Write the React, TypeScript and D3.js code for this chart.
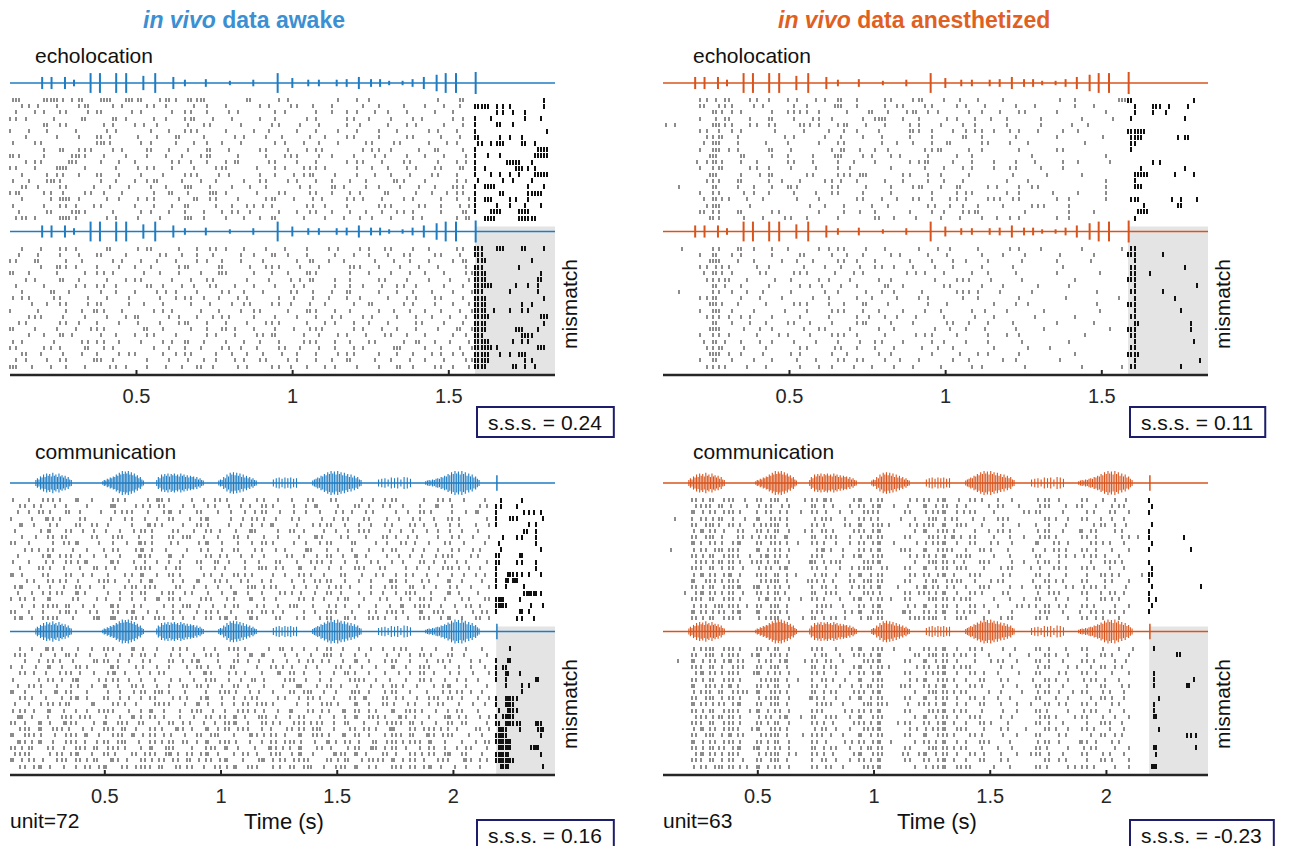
import React, { useEffect, useRef } from "react";
import * as d3 from "d3";

const W = 1293;
const H = 846;
const FONT = "'Liberation Sans', Arial, Helvetica, sans-serif";

const BLUE = "#1f7cc2";
const BLUE_TITLE = "#3b8fd2";
const ORANGE = "#d9541c";
const ORANGE_TITLE = "#e0601f";
const GREY_SPIKE = "#8c8c8c";

// spike rows are hex strings: each char = 4 slots of 10 ms (msb first), from SLOT0.
// text after "|" starts at the tail char index (post-onset window)
const SLOT0 = 0.09;
const SLOT = 0.01;

const echoDomain = [0.095, 1.84];
const commDomain = [0.092, 2.437];
const echoOnset = 1.584;
const commOnset = 2.184;
const echoTail = 37;
const commTail = 52;

const echoTicks = [0.5, 1, 1.5];
const commTicks = [0.5, 1, 1.5, 2];

// echolocation sequence: call time (s), relative amplitude
const echoCalls: [number, number][] = [
  [0.198, 0.55], [0.228, 0.55], [0.271, 0.55], [0.3, 0.3], [0.353, 0.9], [0.383, 0.9],
  [0.435, 0.9], [0.467, 0.9], [0.522, 0.65], [0.56, 0.9], [0.618, 0.55], [0.655, 0.3],
  [0.722, 0.35], [0.799, 0.2], [0.874, 0.3], [0.952, 0.9], [0.999, 0.45], [1.05, 0.3],
  [1.084, 0.3], [1.141, 0.3], [1.173, 0.35], [1.212, 0.55], [1.251, 0.35], [1.28, 0.35],
  [1.309, 0.2], [1.352, 0.2], [1.384, 0.35], [1.42, 0.55], [1.461, 0.75], [1.49, 0.9],
  [1.523, 0.9], [1.586, 1.0],
];

// communication sequence: syllable start/end (s) and envelope samples
const commSyllables = [
  { t0: 0.2, t1: 0.359, env: [0.25, 0.4, 0.3, 0.55, 0.45, 0.7, 0.5, 0.8, 0.6, 0.75, 0.55, 0.85, 0.6, 0.7, 0.5, 0.8, 0.55, 0.65, 0.45, 0.6, 0.35, 0.5, 0.3, 0.25] },
  { t0: 0.488, t1: 0.669, env: [0.15, 0.25, 0.2, 0.35, 0.3, 0.45, 0.4, 0.55, 0.5, 0.7, 0.6, 0.85, 0.7, 1.0, 0.75, 0.95, 0.8, 1.0, 0.7, 0.9, 0.65, 0.8, 0.55, 0.65, 0.4, 0.5, 0.3, 0.2] },
  { t0: 0.72, t1: 0.927, env: [0.25, 0.5, 0.4, 0.7, 0.55, 0.75, 0.6, 0.8, 0.55, 0.75, 0.65, 0.8, 0.6, 0.7, 0.55, 0.8, 0.6, 0.7, 0.5, 0.65, 0.45, 0.6, 0.5, 0.55, 0.35, 0.5, 0.3, 0.4, 0.25, 0.2] },
  { t0: 0.987, t1: 1.155, env: [0.2, 0.3, 0.25, 0.5, 0.4, 0.7, 0.55, 0.85, 0.7, 0.9, 0.65, 0.85, 0.6, 0.8, 0.5, 0.7, 0.45, 0.6, 0.4, 0.5, 0.3, 0.4, 0.25, 0.2] },
  { t0: 1.219, t1: 1.331, env: [0.3, 0.4, 0.45, 0.35, 0.45, 0.4, 0.45, 0.35, 0.4] },
  { t0: 1.391, t1: 1.606, env: [0.2, 0.3, 0.35, 0.45, 0.4, 0.6, 0.55, 0.75, 0.65, 0.9, 0.75, 1.0, 0.8, 0.95, 0.7, 1.0, 0.75, 0.9, 0.65, 0.85, 0.6, 0.75, 0.5, 0.7, 0.45, 0.6, 0.4, 0.5, 0.3, 0.25] },
  { t0: 1.671, t1: 1.822, env: [0.3, 0.35, 0.4, 0.3, 0.45, 0.4, 0.45, 0.3, 0.5, 0.45, 0.35] },
  { t0: 1.877, t1: 2.114, env: [0.15, 0.2, 0.25, 0.2, 0.3, 0.25, 0.35, 0.4, 0.35, 0.5, 0.45, 0.6, 0.55, 0.75, 0.65, 0.9, 0.75, 1.0, 0.8, 0.95, 0.7, 1.0, 0.75, 0.9, 0.6, 0.8, 0.55, 0.7, 0.45, 0.55, 0.35, 0.25] },
];
const commMarker: [number, number] = [2.187, 0.65];

const echoAwakeStd = [
  "701f4b0787 60b46e000c 0240004110 000040c | 0000010",
  "0a4102c048 0a20110400 9028410042 0204108 | 7ca8010",
  "2090a04c01 2008a10240 0480210904 4100820 | 00a4400",
  "a402018064 0220b04100 8401200a10 2048024 | 4200420",
  "0018a00240 9100428020 0a04100880 4120104 | 40c4000",
  "8208040120 0410a80402 1008204102 0802410 | 4000008",
  "0401020c80 4106020090 2100840a02 0140208 | 6048800",
  "40a0000e80 2404110820 0482104028 1402090 | 32e0c80",
  "0010c2a048 0c10418200 a04128004a 2010c04 | 4000078",
  "d0100e8204 0821058040 20a8110204 8104102 | 44400f8",
  "04a01c0410 800a2104c0 1408200941 0280412 | 401f100",
  "a081e08020 4a08102c01 0482a40108 4120a0c | 4803a80",
  "0809420c10 2040a81200 8412c08104 2081410 | 42490f8",
  "420e800420 8b01042010 a048210420 1a04012 | 2024100",
  "0c40a01082 0420e08104 2004819022 0410834 | 4f00210",
  "b01440a208 021840e401 0280a10480 c021094 | 40603e0",
  "0804f20110 4a0218a040 2c10480a41 0240211 | 4e0a200",
  "4010a41400 8208c0210a 4801440802 a014209 | 4088420",
  "100c0e8040 2410820944 0208a10421 0a40206 | 43c1e00",
  "2c80f40120 4080e20410 8c02041088 2048013 | 0f01f80",
];

const echoAwakeDev = [
  "0820a40180 4c0208a410 2081024090 a042014 | 70e0c10",
  "1040820c04 00a1084022 0c41008210 4280a08 | 7000000",
  "a0c0210048 2104090820 4008c21004 1082026 | 3800100",
  "0021a40810 8402c01804 2a04100682 0410402 | 7001000",
  "c201008a40 1082041c02 0841a00410 2084102 | f800020",
  "0480c20104 a008214008 1024c08402 8102041 | 7800060",
  "2010048a20 0c4110a082 0412008441 0a20104 | 7e02240",
  "0806100420 8124080a10 4028410c02 0841020 | f008040",
  "4a02804102 0084a21048 0210420880 4120a04 | 7800010",
  "0108a04c02 1040208114 0a20840218 0240821 | 7800900",
  "8040211a08 0248041022 8041a08402 1084208 | f908a00",
  "02a0408104 c012084a02 0408212048 0821042 | 7c00038",
  "1400a20810 4082c10408 2a01048210 4028104 | 7800010",
  "c081042a00 1840210c82 0410a80241 0820418 | f803840",
  "0210c80420 8a04012081 4c02104820 a104022 | 7000f00",
  "4802014a10 2048c20410 8202a08414 0230841 | 7c04a00",
  "a01480c240 0210840a21 0284108240 1c04208 | fe80070",
  "0c20410812 8044a02108 4108204a02 0841224 | 7c49c00",
  "2408a01c40 0810422090 a048210c04 2084102 | fc00500",
  "e1042080a4 08210c4048 0a21048102 0c40a21 | 7806480",
];

const echoAnesStd = [
  "000a4c0a20 9048c20140 b021040400 0108003 | e000020",
  "000c2a0480 2201c20114 0a02410041 0008200 | 1072080",
  "0000d24010 aa20103082 c480220828 0200020 | 1044000",
  "00084c0830 20a2008f04 2012084200 4002008 | 2000100",
  "4800ea0a28 0d20b04101 2040880200 4010800 | 0000000",
  "000a224008 0404220401 a2044a2120 8084000 | 7e00000",
  "0002b08001 2008408201 0200c20040 0200040 | 3c00580",
  "0004e08040 8020a00210 8218028104 0001000 | 3000000",
  "0008e48030 4002610880 0ac0220020 0280000 | 2000000",
  "0001c06010 8081c09048 0402100002 0000020 | 0000000",
  "0012d04200 a080840801 2c04102041 0084010 | 0050000",
  "0008b00a20 4040880040 0820902140 4080000 | 0400100",
  "0001c04130 0280a9c005 0440200080 1002000 | 1f00820",
  "0002a0c022 080a420104 0420800204 0000020 | 1000000",
  "0400c08410 d002804040 b043009022 8000020 | 1c00000",
  "0008a02420 2042808040 0202500220 0404020 | 0000000",
  "0004d41080 1020028210 a20a40a8a0 0220020 | 3801210",
  "0002e00800 0108201080 0508840402 a020000 | 0200600",
  "000ca0c014 0020210801 0220ac0008 0020200 | 0f00000",
  "0001a02081 4200800c20 4041021120 0220000 | 1000000",
];

const echoAnesDev = [
  "0200a0c410 8024a04100 2088040120 4002001 | 3000000",
  "0008c24010 0c02108048 0410020408 0100200 | 7008000",
  "0001e08402 1080a20801 0204408010 0200400 | 1000000",
  "000a540220 0408410a20 8104020080 0080000 | 3000100",
  "0004d20140 2a01048002 4820108040 0200080 | 3080000",
  "0002ac1008 4024080440 0102a04010 0008000 | 7000000",
  "0000c84020 0910420184 0028020400 8020000 | 1000010",
  "0400a21080 4008804220 1002a40802 0000100 | 3008000",
  "000ac04102 0084021010 2400840020 0040002 | 1000800",
  "0001d08040 2a0420c080 0410002044 0000100 | 7000000",
  "0008e20401 0202a08404 0840110200 2000080 | 1000200",
  "0002a44810 0804022110 4020082001 0008000 | 3000000",
  "0000c20840 a10202c040 8014208080 0200200 | 1800040",
  "0001e02110 0428080420 0108410040 2000010 | 7000040",
  "0008a40204 8102a20100 4a02008220 0001000 | 3000000",
  "0004c84110 2040810a04 0220408010 0020000 | 1000020",
  "0002b02040 0a01420820 1084002004 0800000 | 3000000",
  "0001e44080 4802100440 0201048020 0008000 | 7800000",
  "0008c20410 1040a28108 2004200440 0100000 | 1000008",
  "0002a81040 0822041020 8040120008 0002001 | 3000200",
];

const commAwakeStd = [
  "4082a40c10 0a4011c802 10a4082410 40a0280108 4a0020a410 08 | 1008000",
  "0a24108040 1c0248a021 0482110a40 2118040a20 9040818200 24 | 5020000",
  "108a40c201 04a8102c40 a041044a08 2104091048 0210a40208 c0 | 4005480",
  "8041a40280 1048210a04 2c0108a420 48021140a0 2104820a40 04 | 41a0040",
  "0c20480a14 20081a4020 a4021088c0 1024a08210 480a210440 82 | 4001200",
  "2004c0a108 4104a40281 0a2041c010 a2010842a0 1084108420 40 | 0006200",
  "0410a28014 0a81040a2c 1040a20410 081a024040 a211008241 02 | 0828200",
  "a080214c02 0821a40480 4c10208a40 2104a01804 20a2081410 08 | 2000200",
  "0248a01040 8a02c41008 2410a04822 01c0841020 8a04208241 20 | 1000080",
  "1002c4a208 4101a80c20 0a24108401 4208a10c40 2108412a02 40 | 6018000",
  "408120a4c0 1a04210840 a0c2041028 104a208412 0840a21088 04 | 6028200",
  "080a41020c 4402a81140 2088041a24 0c10420a81 4021082a44 20 | 4000200",
  "c40280a110 2048c10a40 1210a48042 0a41028104 8224108210 88 | 43a9080",
  "0120a48402 a4108c0220 c0a4120880 4214a08210 1a20480c20 10 | 46e0000",
  "2c08410a20 804a2a0141 084102c4a0 21084a2010 4a0c210482 02 | 4404000",
  "10424a0c80 2108a04a12 0410c2080a 4410a20210 822a040c40 40 | 0007e80",
  "8a20c01404 4108218a40 2a04818420 0a2104c081 2088a41024 0a | 7810000",
  "0422a8c108 1a0480222c 4108a02410 b020488204 10c2a8410a 20 | 7c00840",
  "a08204c824 0a2c110240 8a41028a44 0210a81024 2a40c2a081 14 | 4019000",
  "2c42a8100e 1c0a42a221 0a2c41a028 1204a0c82a 4210a84c20 a2 | 0028400",
];

const commAwakeDev = [
  "0841a20410 a80c410248 1082a4010c 4208a10210 84a0410208 10 | 0100000",
  "2a0410c820 4108a20441 0a40218c02 1041a20840 2108a40a10 04 | 0000000",
  "0208a4100c a210480a22 c040a21041 08a2410c20 4a0810a402 20 | 4300000",
  "8410c20a40 1a02410808 a4218020a4 41080a2104 0c20a81042 08 | 4c00000",
  "0a2104a208 2c4108a004 1a02440818 a20410c820 4108a20441 02 | 4610000",
  "4008a21c02 4a10820441 0a8210c402 a104202a84 1020a41088 40 | 4400300",
  "10a4082410 c20a410828 a410a20404 1c08a20410 8a41022c08 04 | 0409000",
  "c20418a040 2104a2c810 082a411040 a2c1081a20 4a081024a2 10 | 0008000",
  "0a41022c40 a1108a0248 2c1084a012 08a41028c0 a2410a8a20 42 | 47a0000",
  "2084a4c018 0a4202a810 c4108a2a40 1082a40c20 a41208a041 08 | 4780000",
  "4a20c10842 a8108c2042 a1082a4410 c0a2418a24 0c2a4108a0 40 | 23a0000",
  "1c4082a2a0 410c8a2041 0a28c41a20 8a04108c2a 41a2081c48 22 | 4f80000",
  "a20c41a808 c2a1408a24 108ac20a48 2a4a10c082 2a8c410a28 04 | 67b0380",
  "0a8c2a4110 a8c20a41a2 0c4a2a0881 4a2c1028a4 1c0a2a4880 a2 | 3c101c0",
  "c2a410a8c2 0a8c4a2410 a2c081a4a2 0c2a418a20 4a8c1a2a04 10 | 7c00080",
  "1a4c20a884 a2c10a4a28 8c2a4108a2 a410c8a20c 2a4a8c1020 8a | 7f00000",
  "a4c0a10a8c 2a408c1a02 0a8c2041a4 8c0a204a1c 4a208a108a 04 | 3f00f00",
  "2a804a2c10 a40a2a1c8a 2c408a20a8 4c201a8c40 a20a4a1c28 10 | 7e00080",
  "c4a20a8a4c 1a20a4a28c 4a2c081c4a 2a80a4c12a 8c4a20a81a 24 | 7f80000",
  "0a2c4108a2 c0a2a8c14a 10a4c2a048 a2c10a8c24 0a8a2c4108 20 | 1e00040",
];

const commAnesStd = [
  "000 a4c2a1 0 a2c4 04 a6 802 c4a 00 24 a2c1 0a40820 0 4a20 0 a04210 0 | 4000000",
  "000 2a8c40 8 4a12 00 c4 408 a2c 10 40 c4a2 2008a04 0 2a04 2 8204a0 0 | 2000000",
  "000 c4a2a4 0 8a24 10 a2 084 2a8 00 a0 4ac2 4a02001 4 a008 0 240a08 0 | 4000000",
  "040 8a4c21 0 c2a4 00 4a 820 a48 02 08 2c4a 0420a80 0 0a42 0 a08420 0 | 0000000",
  "000 a2c8a4 1 2ac4 00 a4 028 c2a 40 24 a8c2 a040204 0 8204 0 04a210 0 | 2000000",
  "000 4ca20a 0 a4c2 04 8a 402 a2c 00 08 c2a4 0208a40 0 4a08 1 8a0240 0 | 4000000",
  "000 a2c40a 2 4a8c 00 c2 a08 4ca 00 a0 2a4c 8a02041 0 2a40 0 a20048 8 | 4000800",
  "000 c8a42c 0 a2a4 20 a4 208 a2c 10 04 4ac2 0a04820 0 c0a2 0 0a4820 0 | 2000000",
  "100 4a2ca8 0 c4a2 00 2c 840 a4c 02 a0 c2a8 20a4080 1 08a4 0 a20408 0 | 4000100",
  "000 a4c2a8 4 2ca4 00 a8 042 c2a 00 24 a4c2 a802040 0 a024 4 4a2080 0 | 0000000",
  "000 2a4ca4 2 a4c2 01 c4 a80 2ac 00 08 2ca4 40a8021 0 4a20 0 082a40 0 | 4000000",
  "000 a8c4a2 0 4a2c 00 a2 084 ac2 80 a0 c4a2 a0204a0 2 20a4 0 a40820 0 | 2000000",
  "000 4ca2c4 0 a8c4 40 4a 208 c4a 00 28 a2c4 0a80240 0 a204 0 20a480 2 | 6000000",
  "000 c2a4a8 0 2ac4 02 a4 40a 2ca 00 a0 4c2a 8204a00 1 0a48 0 a02408 0 | 4000000",
  "000 a4c2ac 1 c4a2 00 8a 204 a4c 04 04 ca24 20a8042 0 a204 8 4a2010 0 | 2000010",
  "004 2ca4a2 0 a4c8 00 c2 a08 2a4 00 a2 a4c2 0a40280 0 42a0 0 a08a20 0 | 4000000",
  "000 a8c2a4 0 4ca2 10 a4 082 c4a 20 a0 2ca4 a802041 0 a042 0 20a480 0 | 4800000",
  "000 4a2ca8 8 a2c4 00 2a 840 a2c 00 48 c4a2 0a2080a 4 8a24 0 a40208 0 | 2000000",
  "000 ca4a2c 0 c2a4 00 a8 024 c2a 01 a0 a4c2 4a08020 0 2a08 1 0a4a20 0 | 4000000",
  "000 a4c2a4 0 4ac2 08 c4 a20 4ca 00 2a ac42 a0204a0 0 a402 0 a24080 0 | 0000000",
];

const commAnesDev = [
  "000 4ac2a4 0 a4c2 00 a8 204 c2a 10 20 a4c2 0a40210 0 a204 0 a04082 0 | 1000000",
  "000 a2c4a8 2 c2a4 00 4a 082 a4c 00 0a 2ca4 a208040 4 0a42 0 20a408 0 | 0006000",
  "020 c4a2ca 0 4a2c 04 a2 840 2ac 00 a0 c4a2 0204a08 0 a208 0 a40210 0 | 0000000",
  "000 a8c42a 0 a2c4 00 c4 a02 c4a 40 04 a2c4 a800420 0 4a02 2 08a240 0 | 0000000",
  "000 2ca4a8 1 c4a2 00 a4 208 a2c 00 a0 4ac2 0a20804 0 a024 0 a20408 0 | 1000000",
  "000 a4c2a4 0 2ac4 20 8a 420 c2a 00 24 c2a4 20a0480 1 0a42 0 4a2080 0 | 1000080",
  "000 c2a4c8 0 a4c2 00 a2 084 4ca 02 a0 a4c2 0a40208 0 a208 0 20a048 0 | 1000600",
  "000 4a8c2a 8 c2a4 00 c4 a02 a2c 00 08 2ca4 a008402 0 4a20 8 a04820 0 | 0000000",
  "000 a2c4a4 0 4ac2 01 a4 208 c4a 00 a0 c4a2 0a20840 0 a042 0 08a420 0 | 0400000",
  "000 ca4a2c 0 a2c4 00 2a 840 2ca 80 42 a4c2 20a0408 2 0a24 0 a20480 0 | 1000000",
  "000 a4c2a8 4 c4a2 00 a8 024 a4c 00 a0 2ac4 a040208 0 a402 0 4a0820 0 | 1000000",
  "000 2a4ca4 0 4a2c 10 c2 a08 c2a 00 08 c4a2 0a80420 0 2a40 4 a04208 0 | 1800000",
  "000 a8c2a4 0 a4c2 00 a4 402 a4c 04 a0 a2c4 20a4080 0 a208 0 20a840 0 | 0000000",
  "000 4ca2a8 2 c2a4 00 4a 208 2ac 00 24 4ac2 a020480 8 0a42 0 a40820 0 | 0400000",
  "000 a2c4ca 0 2ac4 08 a8 840 c4a 00 a0 c2a4 0a40208 0 a024 0 08a240 0 | 0000540",
  "000 c4a2a4 0 a4c2 00 a2 024 a2c 20 08 a4c2 20a8040 0 4a20 1 a20480 0 | 0000000",
  "000 a4ca2c 1 c4a2 00 c4 a08 4ca 00 a0 2ca4 a040820 0 a402 0 4a0208 0 | 1800040",
  "000 2ca4a8 0 4ac2 40 a4 402 c2a 01 42 c4a2 0a20408 2 a208 0 a04820 0 | 0800000",
  "000 a8c4a2 0 a2c4 00 8a 208 a4c 00 a0 a2c4 20a0480 0 0a24 0 20a408 0 | 0000000",
  "000 4a2ca4 8 c4a2 00 a2 840 2ac 00 08 4ac2 a802040 0 a402 4 a40208 0 | 3800000",
];

const panels = [
  { x0: 10, top: 83, kind: "echo", label: "echolocation", labelX: 35, labelY: 63, color: BLUE, std: echoAwakeStd, dev: echoAwakeDev, sss: "0.24", boxY: 407, unit: "" },
  { x0: 663, top: 83, kind: "echo", label: "echolocation", labelX: 693, labelY: 63, color: ORANGE, std: echoAnesStd, dev: echoAnesDev, sss: "0.11", boxY: 407, unit: "" },
  { x0: 10, top: 483, kind: "comm", label: "communication", labelX: 35, labelY: 459, color: BLUE, std: commAwakeStd, dev: commAwakeDev, sss: "0.16", boxY: 820, unit: "unit=72" },
  { x0: 663, top: 483, kind: "comm", label: "communication", labelX: 693, labelY: 459, color: ORANGE, std: commAnesStd, dev: commAnesDev, sss: "-0.23", boxY: 820, unit: "unit=63" },
];

const titles = [
  { x: 143, state: "awake", color: BLUE_TITLE },
  { x: 778, state: "anesthetized", color: ORANGE_TITLE },
];

function spikeTimes(row: string, tailStart: number): number[] {
  const parts = row.split("|").map((s) => s.replace(/\s/g, ""));
  const out: number[] = [];
  const add = (str: string, off: number) => {
    for (let c = 0; c < str.length; c++) {
      const v = parseInt(str[c], 16);
      for (let b = 0; b < 4; b++) {
        if (v & (8 >> b)) out.push(SLOT0 + ((off + c) * 4 + b + 0.5) * SLOT);
      }
    }
  };
  add(parts[0], 0);
  if (parts[1]) add(parts[1], tailStart);
  return out;
}

export default function App() {
  const svgRef = useRef<SVGSVGElement>(null);

  useEffect(() => {
    document.body.style.margin = "0";
    const svg = d3.select(svgRef.current);
    svg.selectAll("*").remove();

    svg.append("rect").attr("width", W).attr("height", H).attr("fill", "#fff");

    // titles
    titles.forEach((tt) => {
      const t = svg.append("text")
        .attr("x", tt.x).attr("y", 28)
        .attr("font-family", FONT).attr("font-size", 23)
        .attr("font-weight", "bold").attr("fill", tt.color);
      t.append("tspan").attr("font-style", "italic").text("in vivo");
      t.append("tspan").text(" data " + tt.state);
    });

    panels.forEach((p) => {
      const g = svg.append("g");
      const isEcho = p.kind === "echo";
      const x = d3.scaleLinear().domain(isEcho ? echoDomain : commDomain).range([p.x0, p.x0 + 545]);
      const onset = isEcho ? echoOnset : commOnset;
      const tail = isEcho ? echoTail : commTail;
      const axisY = p.top + 292;
      const xEnd = p.x0 + 545;

      const blocks = [
        { traceY: p.top, rowY: p.top + 17, rows: p.std, dev: false },
        { traceY: p.top + 148.5, rowY: p.top + 165.5, rows: p.dev, dev: true },
      ];

      blocks.forEach((b) => {
        if (b.dev) {
          g.append("rect")
            .attr("x", x(onset)).attr("y", b.traceY - 5)
            .attr("width", xEnd - x(onset)).attr("height", axisY - b.traceY + 5)
            .attr("fill", "#e4e4e4");
        }

        // stimulus trace
        g.append("line")
          .attr("x1", p.x0).attr("x2", xEnd)
          .attr("y1", b.traceY).attr("y2", b.traceY)
          .attr("stroke", p.color).attr("stroke-width", 1.6);

        if (isEcho) {
          g.selectAll(null).data(echoCalls).enter().append("line")
            .attr("x1", (d) => x(d[0])).attr("x2", (d) => x(d[0]))
            .attr("y1", (d) => b.traceY - d[1] * 11).attr("y2", (d) => b.traceY + d[1] * 11)
            .attr("stroke", p.color).attr("stroke-width", 2);
        } else {
          commSyllables.forEach((s) => {
            const n = s.env.length;
            const step = (s.t1 - s.t0) / n;
            g.selectAll(null).data(s.env).enter().append("line")
              .attr("x1", (_d, i) => x(s.t0 + (i + 0.5) * step))
              .attr("x2", (_d, i) => x(s.t0 + (i + 0.5) * step))
              .attr("y1", (d) => b.traceY - d * 12).attr("y2", (d) => b.traceY + d * 12)
              .attr("stroke", p.color).attr("stroke-width", 1.1);
          });
          g.append("line")
            .attr("x1", x(commMarker[0])).attr("x2", x(commMarker[0]))
            .attr("y1", b.traceY - commMarker[1] * 12).attr("y2", b.traceY + commMarker[1] * 12)
            .attr("stroke", p.color).attr("stroke-width", 1.5);
        }

        // raster
        const y = d3.scaleLinear().domain([0, b.rows.length - 1]).range([b.rowY, b.rowY + 118]);
        const spikes: { t: number; i: number }[] = [];
        b.rows.forEach((r, i) => spikeTimes(r, tail).forEach((t) => spikes.push({ t, i })));
        g.selectAll(null).data(spikes).enter().append("rect")
          .attr("x", (d) => Math.round(x(d.t)) - 1)
          .attr("y", (d) => Math.round(y(d.i) - (d.t >= onset ? 2.5 : 2)))
          .attr("width", 2)
          .attr("height", (d) => (d.t >= onset ? 5 : 4))
          .attr("fill", (d) => (d.t >= onset ? "#111" : GREY_SPIKE));
      });

      // time axis
      g.append("line")
        .attr("x1", p.x0).attr("x2", xEnd)
        .attr("y1", axisY).attr("y2", axisY)
        .attr("stroke", "#262626").attr("stroke-width", 2.5);
      const ticks = isEcho ? echoTicks : commTicks;
      g.selectAll(null).data(ticks).enter().append("line")
        .attr("x1", (d) => x(d)).attr("x2", (d) => x(d))
        .attr("y1", axisY).attr("y2", axisY - 5)
        .attr("stroke", "#262626").attr("stroke-width", 2);
      g.selectAll(null).data(ticks).enter().append("text")
        .attr("x", (d) => x(d)).attr("y", axisY + 28)
        .attr("text-anchor", "middle")
        .attr("font-family", FONT).attr("font-size", 20).attr("fill", "#262626")
        .text((d) => String(d));

      // labels
      g.append("text")
        .attr("x", p.labelX).attr("y", p.labelY)
        .attr("font-family", FONT).attr("font-size", 21).attr("fill", "#111")
        .text(p.label);

      g.append("text")
        .attr("transform", `translate(${p.x0 + 567},${p.top + 221}) rotate(-90)`)
        .attr("text-anchor", "middle")
        .attr("font-family", FONT).attr("font-size", 21).attr("fill", "#111")
        .text("mismatch");

      // s.s.s. box
      const txt = g.append("text")
        .attr("x", p.x0 + 478).attr("y", p.boxY + 23)
        .attr("font-family", FONT).attr("font-size", 21).attr("fill", "#111")
        .text(`s.s.s. = ${p.sss}`);
      const tw = (txt.node() as SVGTextElement).getComputedTextLength();
      g.append("rect")
        .attr("x", p.x0 + 467).attr("y", p.boxY)
        .attr("width", tw + 23).attr("height", 30)
        .attr("fill", "none").attr("stroke", "#1d1d6b").attr("stroke-width", 2);

      if (p.unit) {
        g.append("text")
          .attr("x", p.x0).attr("y", 828)
          .attr("font-family", FONT).attr("font-size", 21).attr("fill", "#111")
          .text(p.unit);
        g.append("text")
          .attr("x", p.x0 + 274).attr("y", 829)
          .attr("text-anchor", "middle")
          .attr("font-family", FONT).attr("font-size", 22).attr("fill", "#111")
          .text("Time (s)");
      }
    });
  }, []);

  return <svg ref={svgRef} width={W} height={H} style={{ display: "block" }} />;
}
